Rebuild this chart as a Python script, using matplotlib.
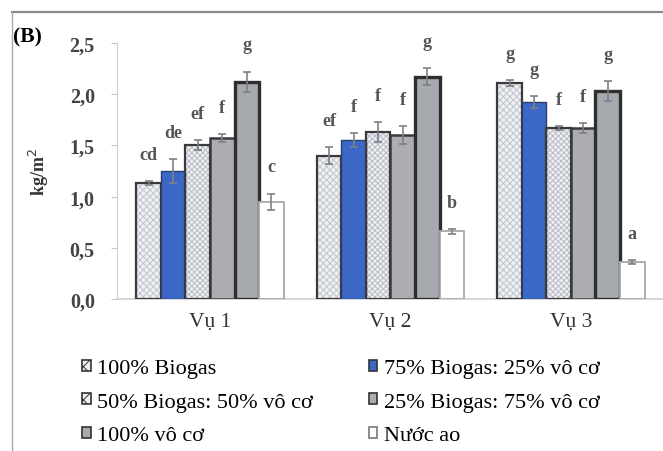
import matplotlib
matplotlib.use("Agg")
import matplotlib.pyplot as plt
from matplotlib.lines import Line2D
from matplotlib.patches import Patch
import numpy as np

plt.rcParams['font.family'] = ['Liberation Serif', 'DejaVu Serif']
plt.rcParams['hatch.linewidth'] = 0.7

seasons = ["Vụ 1", "Vụ 2", "Vụ 3"]
treatments = ["100% Biogas", "75% Biogas: 25% vô cơ", "50% Biogas: 50% vô cơ",
              "25% Biogas: 75% vô cơ", "100% vô cơ", "Nước ao"]

# yield (kg/m2) per treatment, one value per season
biogas100 = [1.13, 1.40, 2.11]
biogas75 = [1.25, 1.55, 1.92]
biogas50 = [1.50, 1.63, 1.67]
biogas25 = [1.57, 1.60, 1.67]
inorganic100 = [2.12, 2.17, 2.03]
pond_water = [0.95, 0.66, 0.36]

err_biogas100 = [0.02, 0.08, 0.03]
err_biogas75 = [0.12, 0.07, 0.06]
err_biogas50 = [0.05, 0.10, 0.02]
err_biogas25 = [0.04, 0.09, 0.05]
err_inorganic100 = [0.10, 0.08, 0.10]
err_pond_water = [0.08, 0.02, 0.02]

letters_biogas100 = ["cd", "ef", "g"]
letters_biogas75 = ["de", "f", "g"]
letters_biogas50 = ["ef", "f", "f"]
letters_biogas25 = ["f", "f", "f"]
letters_inorganic100 = ["g", "g", "g"]
letters_pond_water = ["c", "b", "a"]

values = [biogas100, biogas75, biogas50, biogas25, inorganic100, pond_water]
errors = [err_biogas100, err_biogas75, err_biogas50, err_biogas25,
          err_inorganic100, err_pond_water]
letters = [letters_biogas100, letters_biogas75, letters_biogas50,
           letters_biogas25, letters_inorganic100, letters_pond_water]

styles = [
    dict(face="#eef0f4", hatch="xxxxx", hcol="#c0c4cc", edge="#3a3a3a", lw=1.6),
    dict(face="#3b68c6", hatch=None, hcol=None, edge="#2a3e6a", lw=1.0),
    dict(face="#eef0f4", hatch="xxxxxx", hcol="#b8bcc4", edge="#3a3a3a", lw=1.6),
    dict(face="#abadb1", hatch=None, hcol=None, edge="#3a3a3a", lw=1.8),
    dict(face="#a6a9ad", hatch=None, hcol=None, edge="#2e2e2e", lw=2.4),
    dict(face="#ffffff", hatch=None, hcol=None, edge="#a8a8a8", lw=1.3),
]

fig = plt.figure(figsize=(6.63, 4.52), dpi=100)
ax = fig.add_axes([0.1765, 0.336, 0.8235, 0.567])

x = np.arange(len(seasons))
width = 0.136
offsets = (np.arange(len(treatments)) - 2.5) * width

for i, (vals, errs, st) in enumerate(zip(values, errors, styles)):
    pos = x + offsets[i]
    if st["hatch"]:
        ax.bar(pos, vals, width, color=st["face"], hatch=st["hatch"],
               edgecolor=st["hcol"], linewidth=0, zorder=2)
        ax.bar(pos, vals, width, fill=False, edgecolor=st["edge"],
               linewidth=st["lw"], zorder=3)
    else:
        ax.bar(pos, vals, width, color=st["face"], edgecolor=st["edge"],
               linewidth=st["lw"], zorder=3)
    ax.errorbar(pos, vals, yerr=errs, fmt="none", ecolor="#7d8088",
                elinewidth=1.2, capsize=3, capthick=1.2, zorder=4)
    for p, v, e, t in zip(pos, vals, errs, letters[i]):
        ax.text(p, v + e + 0.26, t, ha="center", va="center", fontsize=13,
                fontweight="bold", color="#555555", clip_on=False)

ax.set_xlim(-0.515, 2.51)
ax.set_ylim(0, 2.5)
ax.set_yticks(np.arange(0, 2.51, 0.5))
ax.set_yticklabels([f"{t:.1f}".replace(".", ",") for t in np.arange(0, 2.51, 0.5)],
                   fontsize=14.5, fontweight="bold", color="#444444")
ax.set_xticks(x)
ax.set_xticklabels(seasons, fontsize=15.5, color="#333333")
ax.tick_params(axis="x", length=0, pad=9)
ax.tick_params(axis="y", length=4, color="#c8c8c8", pad=12)
for s in ["top", "right"]:
    ax.spines[s].set_visible(False)
ax.spines["left"].set_color("#d0d0d0")
ax.spines["bottom"].set_color("#d0d0d0")
ax.spines["bottom"].set_linewidth(1.2)
ax.set_ylabel("kg/m$^2$", fontsize=13, fontweight="bold", color="#333333",
              labelpad=13)

# legend
handles = []
for name, st in zip(treatments, styles):
    handles.append(Patch(facecolor=st["face"],
                         edgecolor="#333333" if name != "Nước ao" else "#777777",
                         hatch="xx" if st["hatch"] else None, linewidth=1.2,
                         label=name))
order = [0, 2, 4, 1, 3, 5]
fig.legend([handles[i] for i in order], [treatments[i] for i in order],
           ncol=2, loc="upper left", bbox_to_anchor=(0.124, 0.203),
           frameon=False, prop={"family": "Liberation Serif", "size": 16},
           handlelength=0.38, handleheight=0.38,
           handletextpad=0.3, columnspacing=2.5, labelspacing=0.65,
           borderpad=0, borderaxespad=0)

fig.text(0.02, 0.918, "(B)", fontsize=15.5, fontweight="bold", va="center")

# outer frame lines
fig.add_artist(Line2D([0.018, 1.0], [0.971, 0.971], color="#8a8a8a", lw=1.6))
fig.add_artist(Line2D([0.018, 0.018], [0.0, 0.971], color="#aaaaaa", lw=1.0))

fig.savefig("out.png", dpi=100)
